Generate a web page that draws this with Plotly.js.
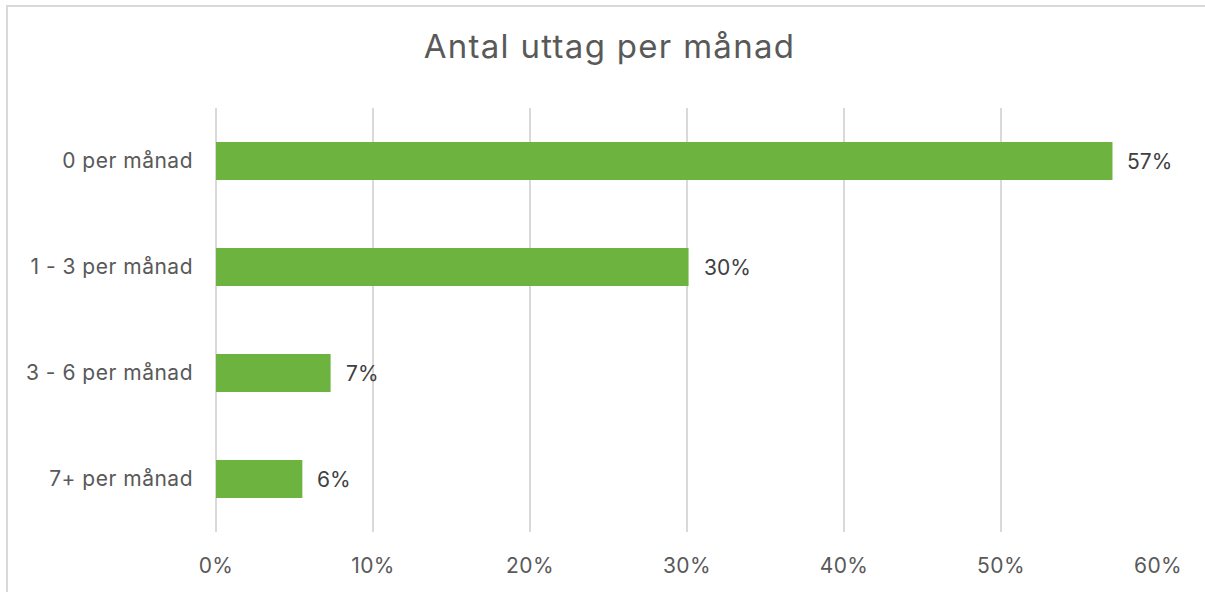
<!DOCTYPE html>
<html>
<head>
<meta charset="utf-8">
<script src="https://cdn.plot.ly/plotly-3.0.1.min.js"></script>
<style>
html,body{margin:0;padding:0;background:#fff;overflow:hidden;}
#wrap{position:relative;width:1205px;height:592px;overflow:hidden;}
#chart{width:1205px;height:592px;}
#frame{position:absolute;left:5.75px;top:4.75px;width:1400px;height:800px;
  border-top:2.5px solid #d9d9d9;border-left:2.5px solid #d9d9d9;pointer-events:none;}
#chart .gtitle{letter-spacing:1.3px;}
#chart .ytick text{letter-spacing:0.5px;}
#chart .xtick text{letter-spacing:0.4px;}
</style>
</head>
<body>
<div id="wrap">
<div id="chart"></div>
<div id="frame"></div>
</div>
<script>
const categories = ["0 per månad", "1 - 3 per månad", "3 - 6 per månad", "7+ per månad"];
const values = [0.571, 0.301, 0.073, 0.055];
const labels = ["57%", "30%", "7%", "6%"];
const tickVals = [0, 0.1, 0.2, 0.3, 0.4, 0.5, 0.6];
const tickText = ["0%", "10%", "20%", "30%", "40%", "50%", "60%"];

const FONT = "Inter, 'Open Sans', sans-serif";

const trace = {
  type: "bar",
  orientation: "h",
  y: categories,
  x: values,
  marker: {color: "#6db33f"},
  width: 0.36,
  hoverinfo: "none"
};

const annotations = categories.map((c, i) => ({
  x: values[i], y: c, xref: "x", yref: "y",
  text: labels[i], showarrow: false,
  xanchor: "left", yanchor: "middle", xshift: 13,
  font: {family: FONT, size: 21, color: "#404040"}
}));

const layout = {
  width: 1205, height: 592,
  margin: {l: 216, r: 47, t: 108, b: 60},
  paper_bgcolor: "#ffffff", plot_bgcolor: "#ffffff",
  showlegend: false,
  title: {
    text: "Antal uttag per månad",
    font: {family: FONT, size: 33, color: "#595959"},
    x: 609.5 / 1205, xref: "container", xanchor: "center",
    y: 0.921, yanchor: "middle"
  },
  xaxis: {
    range: [0, 0.6],
    tickvals: tickVals, ticktext: tickText,
    showgrid: true, gridcolor: "#d9d9d9", gridwidth: 2,
    zeroline: true, zerolinecolor: "#d9d9d9", zerolinewidth: 2,
    showline: false, ticks: "",
    ticklabelstandoff: 19,
    tickfont: {family: FONT, size: 21, color: "#595959"},
    fixedrange: true
  },
  yaxis: {
    type: "category",
    autorange: "reversed",
    showgrid: false, zeroline: false, showline: false, ticks: "",
    ticklabelstandoff: 22,
    tickfont: {family: FONT, size: 21, color: "#595959"},
    fixedrange: true
  },
  annotations: annotations,
  bargap: 0.64
};

Plotly.newPlot("chart", [trace], layout, {displayModeBar: false, staticPlot: true});
</script>
</body>
</html>
